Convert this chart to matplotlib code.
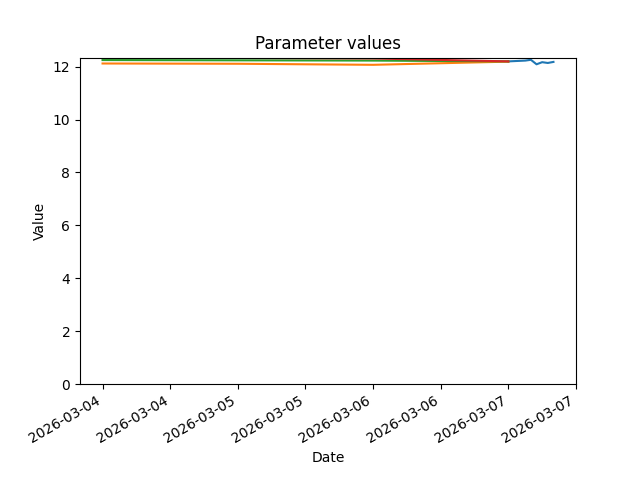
import numpy as np
import pandas as pd
import matplotlib
matplotlib.use("Agg")
import matplotlib.pyplot as plt
import matplotlib.dates as mdates

# daily series (03-04 .. 03-07)
daily_dates = pd.to_datetime(["2026-03-04", "2026-03-05", "2026-03-06", "2026-03-07"])
orange_vals = [12.12, 12.11, 12.07, 12.19]
green_vals  = [12.25, 12.24, 12.23, 12.20]
red_vals    = [12.33, 12.33, 12.31, 12.20]

# hourly series on 03-07
hourly_dates = pd.date_range("2026-03-07 00:00", periods=9, freq="h")
blue_vals = [12.20, 12.21, 12.22, 12.23, 12.26, 12.09, 12.17, 12.14, 12.18]

fig, ax = plt.subplots(figsize=(6.4, 4.8))
ax.plot(hourly_dates, blue_vals)
ax.plot(daily_dates, orange_vals)
ax.plot(daily_dates, green_vals)
ax.plot(daily_dates, red_vals)

ax.set_ylim(bottom=0)
ax.xaxis.set_major_formatter(mdates.DateFormatter("%Y-%m-%d"))
ax.set_title("Parameter values")
ax.set_xlabel("Date")
ax.set_ylabel("Value")
fig.autofmt_xdate()

plt.savefig("out.png", dpi=100)
